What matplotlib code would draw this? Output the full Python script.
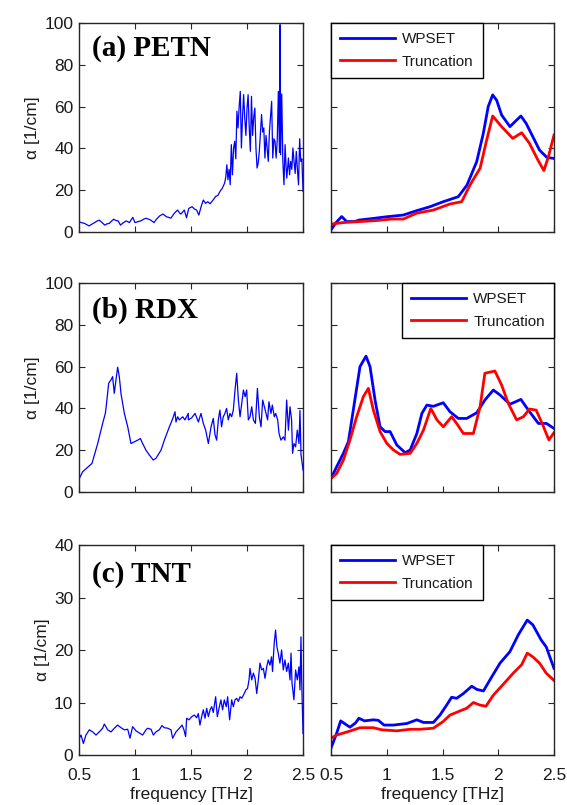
import matplotlib
matplotlib.use("Agg")
import matplotlib.pyplot as plt
import numpy as np

# ---------------- data ----------------
# (a) PETN raw spectrum
petn_f = [0.50,0.52,0.55,0.57,0.59,0.61,0.64,0.66,0.68,0.70,0.73,0.75,0.77,0.79,0.81,0.83,0.85,0.87,0.89,0.92,
          0.94,0.95,0.98,1.00,1.03,1.05,1.08,1.10,1.13,1.14,1.17,1.19,1.22,1.25,1.28,1.30,1.32,1.35,1.38,1.40,
          1.41,1.44,1.46,1.48,1.51,1.53,1.55,1.57,1.59,1.61,1.63,1.65,1.67,1.70,1.72,1.74,1.76,1.78,1.80,1.81,
          1.82,1.83,1.84,1.85,1.86,1.87,1.88,1.89,1.90,1.91,1.92,1.93,1.94,1.95,1.96,1.97,1.98,1.99,2.00,2.01,
          2.02,2.03,2.04,2.05,2.06,2.07,2.08,2.09,2.10,2.11,2.13,2.14,2.15,2.16,2.17,2.19,2.20,2.22,2.23,2.24,
          2.25,2.26,2.27,2.28,2.29,2.295,2.30,2.31,2.32,2.33,2.34,2.35,2.355,2.37,2.38,2.39,2.40,2.41,2.42,2.43,
          2.44,2.45,2.46,2.47,2.48,2.49,2.50]
petn_a = [4.9,4.5,4.1,3.5,2.9,3.6,4.5,5.2,5.7,4.8,3.3,3.9,4.1,5.2,6.1,5.5,5.3,3.3,4.2,5.3,
          4.8,4.5,7.0,4.5,5.0,5.3,6.2,6.6,5.9,5.7,4.5,6.0,7.7,8.6,7.3,7.0,6.6,8.9,10.5,9.0,
          8.6,10.5,6.8,11.3,12.1,11.0,10.5,8.1,12.1,15.3,13.7,14.5,13.5,15.5,17.0,17.5,19.5,21.0,23.4,26.0,
          32.2,25.0,30.0,22.6,41.8,27.4,40.0,43.4,35.0,57.8,49.8,60.0,67.3,40.2,55.0,65.7,54.5,46.2,59.0,65.7,
          50.0,38.6,64.9,46.2,55.0,59.3,40.0,30.6,33.0,38.6,56.2,47.8,49.8,35.4,46.2,33.8,47.8,62.5,35.4,44.6,
          43.4,35.4,44.0,67.3,38.0,99.2,37.0,66.0,33.8,22.6,41.8,30.0,25.8,35.4,27.4,33.8,30.0,40.2,33.8,28.0,
          38.6,30.0,22.6,44.6,33.8,35.0,19.5]

# (b) RDX raw spectrum
rdx_f = [0.503,0.533,0.616,0.667,0.711,0.735,0.741,0.765,0.785,0.80,0.815,0.830,0.845,0.860,0.875,0.905,0.935,0.964,0.994,1.024,
         1.048,1.068,1.098,1.128,1.163,1.187,1.232,1.262,1.307,1.336,1.357,1.366,1.381,1.396,1.426,1.446,1.476,1.476,1.506,1.536,
         1.566,1.589,1.610,1.631,1.655,1.679,1.699,1.714,1.729,1.744,1.758,1.773,1.788,1.803,1.818,1.833,1.848,1.863,1.878,1.893,
         1.908,1.923,1.938,1.953,1.968,1.983,1.997,2.012,2.027,2.042,2.057,2.075,2.093,2.110,2.125,2.140,2.170,2.184,2.196,2.214,
         2.226,2.244,2.256,2.274,2.286,2.303,2.324,2.339,2.354,2.370,2.384,2.398,2.407,2.419,2.434,2.449,2.464,2.473,2.482,2.5]
rdx_a = [6.5,9.7,13.7,23.2,32.8,37.6,40.0,52.0,53.6,55.2,47.2,53.6,59.7,55.2,47.0,37.6,31.2,23.2,24.0,24.8,
         25.6,23.2,20.0,17.7,15.3,16.1,20.0,24.8,31.2,35.0,38.4,33.5,36.0,34.5,36.0,34.5,37.6,34.5,35.5,37.6,
         33.5,37.6,32.8,29.6,23.2,31.2,35.2,27.5,24.8,34.5,39.2,31.2,36.0,37.6,40.0,34.5,37.6,36.0,39.2,48.8,
         56.8,44.0,36.0,42.4,48.8,45.6,48.8,34.5,36.0,40.8,34.5,32.8,49.6,36.0,31.2,44.0,37.6,34.5,43.2,37.6,
         41.6,36.0,37.6,34.5,28.0,24.8,26.4,24.8,44.0,29.6,40.8,34.5,18.5,23.2,21.6,29.6,23.2,39.0,18.0,10.5]

# (c) TNT raw spectrum
tnt_f = [0.503,0.518,0.539,0.562,0.592,0.622,0.652,0.681,0.711,0.726,0.756,0.786,0.815,0.845,0.875,0.905,0.935,0.955,0.979,1.009,
         1.038,1.068,1.098,1.113,1.143,1.164,1.187,1.217,1.241,1.262,1.292,1.321,1.336,1.366,1.396,1.420,1.437,1.452,1.461,1.482,
         1.506,1.530,1.551,1.565,1.580,1.595,1.610,1.625,1.640,1.655,1.670,1.685,1.699,1.720,1.735,1.750,1.767,1.782,1.797,1.815,
         1.827,1.845,1.863,1.878,1.893,1.908,1.923,1.938,1.953,1.975,1.990,2.005,2.018,2.027,2.042,2.057,2.072,2.087,2.101,2.116,
         2.131,2.146,2.161,2.176,2.190,2.205,2.219,2.228,2.243,2.255,2.267,2.279,2.294,2.309,2.324,2.339,2.354,2.369,2.384,2.393,
         2.402,2.419,2.434,2.449,2.464,2.473,2.482,2.488,2.5]
tnt_a = [3.2,3.8,2.2,3.8,4.8,4.4,3.8,4.4,5.1,5.9,4.8,4.4,5.1,5.7,5.2,4.8,4.9,3.2,5.4,4.6,
         4.2,3.8,4.8,5.1,4.9,3.8,4.4,4.8,5.6,5.2,5.1,4.8,3.2,4.4,5.1,5.7,4.8,3.5,7.0,6.7,
         7.3,7.6,7.1,7.9,5.7,7.3,8.6,7.0,8.9,7.3,8.6,9.2,8.1,11.1,7.3,8.9,10.5,8.6,10.5,9.2,
         11.1,6.7,10.5,9.2,10.5,10.8,10.2,11.1,10.8,11.7,12.4,12.7,14.3,16.5,14.3,15.6,14.6,11.7,14.3,17.5,
         16.2,16.5,14.6,16.8,18.1,17.1,18.7,15.9,21.3,23.8,20.6,19.4,17.5,20.0,16.2,18.1,15.9,17.5,14.3,19.4,
         13.7,10.5,16.2,14.3,16.8,12.4,22.5,14.3,4.1]

# Denoised spectra (right column)
petn_wp_f = [0.50,0.545,0.596,0.64,0.715,0.75,0.88,1.00,1.148,1.268,1.388,1.507,1.642,1.72,1.807,1.866,1.91,1.95,1.986,2.03,
             2.105,2.15,2.203,2.25,2.31,2.37,2.436,2.50]
petn_wp_a = [1.0,4.5,7.4,5.0,5.0,5.7,6.5,7.3,8.1,10.2,12.1,14.5,16.9,22.5,33.7,47.2,60.0,65.6,63.0,56.0,
             50.4,52.8,55.5,52.0,45.6,39.2,35.7,35.2]
petn_tr_f = [0.50,0.607,0.76,0.91,1.044,1.148,1.268,1.418,1.567,1.672,1.747,1.837,1.896,1.95,2.03,2.13,2.21,2.28,2.355,2.409,
             2.45,2.50]
petn_tr_a = [3.8,4.5,5.0,5.5,6.2,6.2,9.0,10.5,13.4,14.5,22.5,30.5,44.0,55.5,50.4,44.8,47.5,42.4,34.5,29.4,
             36.0,46.4]

rdx_wp_f = [0.50,0.551,0.611,0.656,0.70,0.76,0.814,0.85,0.895,0.94,0.985,1.03,1.09,1.165,1.21,1.27,1.315,1.36,1.418,1.507,
            1.567,1.642,1.717,1.807,1.88,1.956,2.016,2.105,2.203,2.27,2.36,2.433,2.50]
rdx_wp_a = [6.5,12.1,18.5,24.1,39.2,60.0,65.0,60.0,44.0,31.2,28.9,28.9,22.5,18.8,20.1,28.0,37.6,41.6,41.0,42.7,
            38.4,35.2,35.2,37.9,44.0,48.8,46.4,42.0,44.3,39.2,32.8,32.8,30.4]
rdx_tr_f = [0.50,0.551,0.611,0.67,0.73,0.79,0.835,0.88,0.94,1.00,1.06,1.12,1.21,1.27,1.33,1.395,1.45,1.507,1.582,1.627,
            1.687,1.777,1.837,1.88,1.97,2.03,2.09,2.165,2.225,2.28,2.34,2.40,2.454,2.50]
rdx_tr_a = [6.5,8.9,15.3,24.9,36.0,45.6,49.6,39.2,28.9,23.3,20.1,18.0,18.5,23.3,29.7,40.0,34.5,31.2,36.0,32.8,
            28.0,28.0,40.8,56.8,57.9,51.2,42.4,34.5,36.0,39.7,39.2,32.0,24.9,28.4]

tnt_wp_f = [0.50,0.55,0.587,0.627,0.67,0.72,0.75,0.80,0.88,0.925,0.975,1.06,1.18,1.27,1.33,1.418,1.477,1.537,1.582,1.627,
            1.687,1.762,1.807,1.867,1.942,2.016,2.105,2.18,2.26,2.31,2.385,2.43,2.50]
tnt_wp_a = [1.3,4.1,6.5,5.9,5.3,6.1,7.0,6.5,6.7,6.6,5.7,5.7,6.0,6.7,6.2,6.2,7.6,9.5,11.0,10.8,
            11.7,13.1,12.5,12.2,14.9,17.5,19.7,22.9,25.7,24.8,21.9,20.6,16.5]
tnt_tr_f = [0.50,0.55,0.646,0.76,0.88,0.955,1.09,1.21,1.298,1.418,1.507,1.567,1.657,1.717,1.777,1.837,1.89,1.956,2.046,2.135,
            2.21,2.26,2.31,2.37,2.43,2.50]
tnt_tr_a = [3.2,3.8,4.4,5.2,5.2,4.8,4.6,4.9,4.9,5.1,6.4,7.6,8.4,8.9,10.0,9.5,9.3,11.4,13.5,15.6,
            17.2,19.4,18.7,17.5,15.6,14.2]

panel_labels = ["(a) PETN", "(b) RDX", "(c) TNT"]
series_labels = ["WPSET", "Truncation"]
xticks = [0.5, 1.0, 1.5, 2.0, 2.5]
xticklabels = ["0.5", "1", "1.5", "2", "2.5"]
ylims = [100, 100, 40]
yticks = [[0, 20, 40, 60, 80, 100], [0, 20, 40, 60, 80, 100], [0, 10, 20, 30, 40]]

raw = [(petn_f, petn_a), (rdx_f, rdx_a), (tnt_f, tnt_a)]
den = [(petn_wp_f, petn_wp_a, petn_tr_f, petn_tr_a),
       (rdx_wp_f, rdx_wp_a, rdx_tr_f, rdx_tr_a),
       (tnt_wp_f, tnt_wp_a, tnt_tr_f, tnt_tr_a)]

# ---------------- figure ----------------
plt.rcParams['font.family'] = ['Liberation Sans', 'DejaVu Sans']
W, H = 567, 805
fig = plt.figure(figsize=(W / 100, H / 100), dpi=100)

txtc = '#1a1a1a'
spc = '#262626'

def px_axes(x0, y0, x1, y1):
    return fig.add_axes([x0 / W, 1 - y1 / H, (x1 - x0) / W, (y1 - y0) / H])

rows = [(23, 232), (283, 492), (545, 755)]
label_y = [0.845, 0.835, 0.825]
legend_loc = ['upper left', 'upper right', 'upper left']

for i in range(3):
    y0, y1 = rows[i]
    axL = px_axes(79, y0, 303, y1)
    axR = px_axes(331, y0, 554, y1)
    f, a = raw[i]
    axL.plot(f, a, color=(0, 0, 1), lw=0.9)
    wf, wa, tf, ta = den[i]
    axR.plot(wf, wa, color=(0, 0, 1), lw=2.0, label=series_labels[0])
    axR.plot(tf, ta, color=(1, 0, 0), lw=2.0, label=series_labels[1])
    for ax in (axL, axR):
        ax.set_xlim(0.5, 2.5)
        ax.set_ylim(0, ylims[i])
        ax.set_xticks(xticks)
        ax.set_yticks(yticks[i])
        ax.tick_params(direction='in', length=4, width=0.8, top=True, right=True,
                       labelsize=12.5, colors=spc, labelcolor=txtc)
        ax.tick_params(axis='y', pad=4)
        ax.tick_params(axis='x', pad=9)
        for s in ax.spines.values():
            s.set_color(spc)
            s.set_linewidth(1.0)
        if i == 2:
            ax.set_xticklabels(xticklabels)
            ax.set_xlabel("frequency [THz]", fontsize=12.5, color=txtc, labelpad=3)
        else:
            ax.set_xticklabels([])
    axR.set_yticklabels([])
    axL.set_ylabel("α [1/cm]", fontsize=12.5, color=txtc, labelpad=3)
    axL.text(0.058, label_y[i], panel_labels[i], transform=axL.transAxes,
             fontsize=21, fontweight='bold', family=['Liberation Serif', 'DejaVu Serif'],
             va='baseline', ha='left', color='black')
    leg = axR.legend(loc=legend_loc[i], fontsize=11, frameon=True, fancybox=False,
                     edgecolor='black', framealpha=1, borderaxespad=0, borderpad=0.6,
                     labelspacing=0.55, handlelength=3.6, handletextpad=0.45)
    leg.get_frame().set_linewidth(1.0)
    for t in leg.get_texts():
        t.set_color(txtc)

fig.savefig("out.png", dpi=100)
